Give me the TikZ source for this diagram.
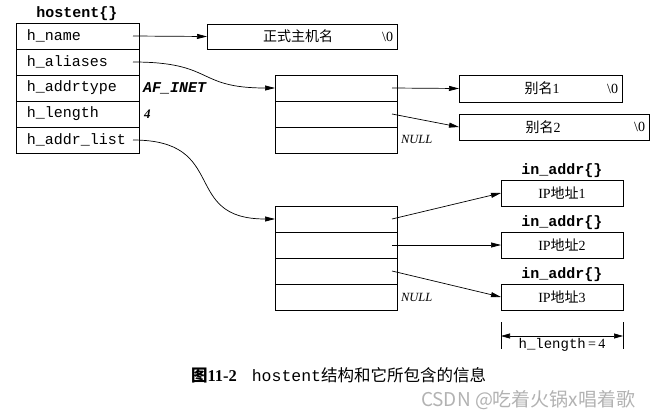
\documentclass[tikz,border=0pt]{standalone}
\usepackage{fontspec}
\setmainfont{Liberation Serif}
\setmonofont{Liberation Mono}
\newfontfamily\cjk{Noto Sans CJK SC}
\usetikzlibrary{arrows.meta}
\begin{document}
\begin{tikzpicture}[x=1pt,y=-1pt,
  every node/.style={inner sep=0pt, outer sep=0pt},
  cell/.style={draw, line width=0.8pt, anchor=north west, minimum height=26pt},
  field/.style={cell, minimum width=123pt, text width=101pt, inner xsep=11pt, align=left,
    font=\fontsize{15}{16}\selectfont\ttfamily},
  slot/.style={cell, minimum width=122pt},
  strbox/.style={cell, minimum height=26pt},
  ipbox/.style={cell, minimum width=122pt, font=\fontsize{14}{16}\selectfont},
  cjktext/.style={font=\fontsize{14}{16}\selectfont},
  ttlabel/.style={font=\fontsize{15}{16}\selectfont\ttfamily\bfseries},
  nulltext/.style={anchor=west, font=\fontsize{12.5}{14}\selectfont\itshape},
  link/.style={line width=0.7pt, -{Triangle[length=10pt,width=5pt]}},
]
\useasboundingbox (0,0) rectangle (657,418);

% hostent structure
\node[ttlabel] (hostlbl) at (77,14) {hostent\{\}};
\node[field] (h1) at (16,23) {h\_name};
\node[field] (h2) at (16,49) {h\_aliases};
\node[field] (h3) at (16,75) {h\_addrtype};
\node[field] (h4) at (16,101) {h\_length};
\node[field] (h5) at (16,127) {h\_addr\_list};
\node[anchor=west, font=\fontsize{15}{16}\selectfont\ttfamily\itshape\bfseries] (afinet) at (143,88) {AF\_INET};
\node[anchor=west, font=\fontsize{13}{15}\selectfont\bfseries\itshape] (four) at (144,114) {4};

% official name
\node[strbox, minimum width=190pt, minimum height=25pt] (nm) at (207,24) {};
\node[cjktext] (nmtxt) at (298,36.5) {\cjk 正式主机名};
\node[anchor=east, font=\fontsize{14}{16}\selectfont] (nmz) at ([xshift=-4pt]nm.east) {\textbackslash 0};

% aliases array
\node[slot] (a1) at (275,75) {};
\node[slot] (a2) at (275,101) {};
\node[slot] (a3) at (275,127) {};
\node[nulltext] (anull) at (401,139) {NULL};

% alias strings
\node[strbox, minimum width=163pt, minimum height=27pt] (al1) at (459,75) {};
\node[cjktext] (al1t) at (542,88.5) {{\cjk 别名}1};
\node[anchor=east, font=\fontsize{14}{16}\selectfont] (al1z) at ([xshift=-4pt]al1.east) {\textbackslash 0};
\node[strbox, minimum width=190pt, minimum height=26pt] (al2) at (459,114) {};
\node[cjktext] (al2t) at (543,127) {{\cjk 别名}2};
\node[anchor=east, font=\fontsize{14}{16}\selectfont] (al2z) at ([xshift=-4pt]al2.east) {\textbackslash 0};

% address list array
\node[slot] (p1) at (275,206) {};
\node[slot] (p2) at (275,232) {};
\node[slot] (p3) at (275,258) {};
\node[slot] (p4) at (275,284) {};
\node[nulltext] (pnull) at (401,297) {NULL};

% in_addr boxes
\node[ttlabel] (ia1) at (562,171) {in\_addr\{\}};
\node[ipbox] (ip1) at (501,180) {IP{\cjk 地址}1};
\node[ttlabel] (ia2) at (562,223) {in\_addr\{\}};
\node[ipbox] (ip2) at (501,232) {IP{\cjk 地址}2};
\node[ttlabel] (ia3) at (562,275) {in\_addr\{\}};
\node[ipbox] (ip3) at (501,284) {IP{\cjk 地址}3};

% connectors
\draw[link] ([xshift=-6pt]h1.east) -- (nm.west);
\draw[link] ([xshift=-6pt]h2.east) .. controls (215,62) and (195,88) .. (a1.west);
\draw[link] ([xshift=-6pt]h5.east) .. controls (230,140) and (180,219) .. (p1.west);
\draw[link] ([xshift=-5pt]a1.east) -- (al1.west);
\draw[link] ([xshift=-5pt]a2.east) -- (al2.west);
\draw[link] ([xshift=-5pt]p1.east) -- (ip1.west);
\draw[link] ([xshift=-5pt]p2.east) -- (ip2.west);
\draw[link] ([xshift=-5pt]p3.east) -- (ip3.west);

% h_length dimension
\coordinate (t1a) at (501,322);
\coordinate (t1b) at (501,349);
\coordinate (t2a) at (623,322);
\coordinate (t2b) at (623,349);
\draw[line width=0.8pt] (t1a) -- (t1b);
\draw[line width=0.8pt] (t2a) -- (t2b);
\coordinate (dl) at (501,336);
\coordinate (dr) at (623,336);
\draw[line width=0.6pt, {Triangle[length=9pt,width=5pt]}-{Triangle[length=9pt,width=5pt]}] (dl) -- (dr);
\node[fill=white, inner xsep=1pt, font=\fontsize{14}{15}\selectfont] (hlen) at (562,344.5) {{\ttfamily h\_length}\,=\,4};

% caption
\node[anchor=west, font=\fontsize{16.5}{18}\selectfont] (cap) at (191,375)
  {{\cjk\bfseries 图}\textbf{11-2}\hspace{15pt}{\ttfamily hostent}{\cjk 结构和它所包含的信息}};

% watermark
\node[anchor=west, text=black!30, font=\fontsize{19}{21}\selectfont\cjk] (wm) at (421,400) {CSDN @吃着火锅x唱着歌};
\end{tikzpicture}
\end{document}
